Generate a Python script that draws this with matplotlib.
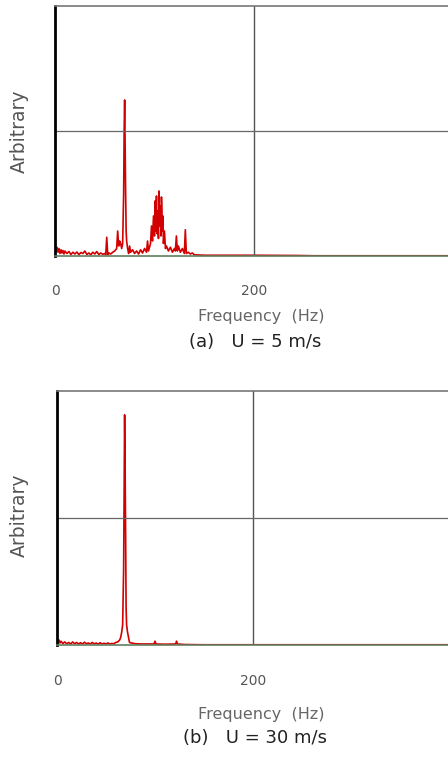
import matplotlib
matplotlib.use("Agg")
import matplotlib.pyplot as plt

plt.rcParams['font.family'] = ['DejaVu Sans']

# spectrum (a) U = 5 m/s, amplitude as fraction of full scale
freq_a = [0, 1, 2, 3, 4, 5, 6, 7, 8, 9, 10, 12, 14, 16, 18, 20, 22, 24, 26, 28,
          30, 32, 34, 36, 38, 40, 42, 44, 46, 48, 50, 51, 52, 53, 54, 56, 58, 60, 62, 63,
          64, 65, 66, 67, 68, 69, 69.5, 70, 70.5, 71, 71.5, 72, 73, 74, 75, 76, 78, 80, 82, 84,
          86, 88, 90, 92, 93, 94, 96, 97, 98, 99, 100, 100.5, 101, 102, 102.5, 103, 104, 104.5, 105, 106,
          106.5, 107, 108, 108.5, 109, 110, 111, 112, 114, 116, 118, 120, 121, 122, 123, 124, 126, 128, 130, 131,
          132, 134, 136, 138, 140, 145, 150, 170, 200, 245, 260, 395]
amp_a = [0.04, 0.02, 0.035, 0.015, 0.03, 0.01, 0.025, 0.012, 0.022, 0.008, 0.02, 0.01, 0.018, 0.006, 0.015, 0.008, 0.016, 0.005, 0.014, 0.01,
         0.02, 0.006, 0.012, 0.005, 0.015, 0.008, 0.018, 0.006, 0.012, 0.007, 0.01, 0.005, 0.075, 0.005, 0.012, 0.008, 0.015, 0.02, 0.03, 0.1,
         0.04, 0.06, 0.05, 0.03, 0.05, 0.25, 0.5, 0.624, 0.44, 0.25, 0.1, 0.06, 0.03, 0.01, 0.04, 0.015, 0.025, 0.01, 0.02, 0.008,
         0.025, 0.012, 0.03, 0.015, 0.06, 0.02, 0.05, 0.12, 0.06, 0.16, 0.08, 0.22, 0.1, 0.24, 0.09, 0.18, 0.07, 0.26, 0.12, 0.2,
         0.08, 0.236, 0.1, 0.16, 0.05, 0.1, 0.03, 0.04, 0.02, 0.035, 0.015, 0.03, 0.02, 0.08, 0.02, 0.04, 0.015, 0.03, 0.01, 0.105,
         0.01, 0.015, 0.008, 0.012, 0.005, 0.004, 0.003, 0.003, 0.003, 0.002, 0.001, 0.001]

# spectrum (b) U = 30 m/s
freq_b = [0, 1, 2, 3, 4, 6, 8, 10, 12, 14, 16, 18, 20, 22, 24, 26, 28, 30, 32, 34,
          36, 38, 40, 42, 44, 46, 48, 50, 52, 54, 56, 58, 60, 62, 64, 65, 66, 67, 68, 68.5,
          69, 69.5, 70, 70.5, 71, 72, 73, 74, 76, 80, 86, 90, 99, 100, 101, 110, 121, 122, 123, 130,
          150, 399]
amp_b = [0.03, 0.01, 0.02, 0.008, 0.015, 0.006, 0.012, 0.005, 0.01, 0.004, 0.012, 0.005, 0.01, 0.004, 0.009, 0.004, 0.011, 0.005, 0.008, 0.004,
         0.01, 0.004, 0.008, 0.003, 0.009, 0.004, 0.007, 0.004, 0.008, 0.004, 0.006, 0.005, 0.01, 0.012, 0.02, 0.03, 0.05, 0.08, 0.3, 0.6,
         0.906, 0.7, 0.45, 0.15, 0.08, 0.05, 0.03, 0.01, 0.008, 0.005, 0.004, 0.004, 0.004, 0.015, 0.004, 0.003, 0.004, 0.015, 0.004, 0.002,
         0.001, 0.001]

xticks = [0, 200]

fig = plt.figure(figsize=(4.48, 7.59), dpi=100)


def panel(rect, freq, amp, xmax, caption, ylab_y, freq_y, cap_y, pad):
    ax = fig.add_axes(rect)
    ax.plot(freq, amp, color='#d20000', lw=1.2)
    ax.set_xlim(0, xmax)
    ax.set_ylim(0, 1)
    ax.axvline(200, color='#555555', lw=1.0)
    ax.axhline(0.5, color='#666666', lw=0.9)
    ax.set_yticks([])
    ax.set_xticks(xticks)
    ax.set_xticklabels([str(t) for t in xticks])
    ax.tick_params(axis='x', length=0, pad=pad, labelsize=10, labelcolor='#555555')
    ax.spines['right'].set_visible(False)
    ax.spines['left'].set_color('black')
    ax.spines['left'].set_linewidth(2.0)
    ax.spines['top'].set_color('#777777')
    ax.spines['top'].set_linewidth(1.2)
    ax.spines['bottom'].set_color('#5f7f5f')
    ax.spines['bottom'].set_linewidth(1.2)
    fig.text(19 / 448, ylab_y, 'Arbitrary', rotation=90, ha='center', va='center',
             fontsize=13.5, color='#555555')
    fig.text(261 / 448, freq_y, 'Frequency  (Hz)', ha='center', va='center',
             fontsize=11.5, color='#666666')
    fig.text(255 / 448, cap_y, caption, ha='center', va='center',
             fontsize=13, color='#222222')
    return ax


panel([55 / 448, 503 / 759, 393 / 448, 250 / 759], freq_a, amp_a, 395,
      '(a)   U = 5 m/s', 1 - 131 / 759, 1 - 317 / 759, 1 - 342 / 759, 20)
panel([57 / 448, 114 / 759, 391 / 448, 254 / 759], freq_b, amp_b, 399,
      '(b)   U = 30 m/s', 1 - 515 / 759, 1 - 715 / 759, 1 - 738 / 759, 21)

fig.savefig('out.png', dpi=100)
